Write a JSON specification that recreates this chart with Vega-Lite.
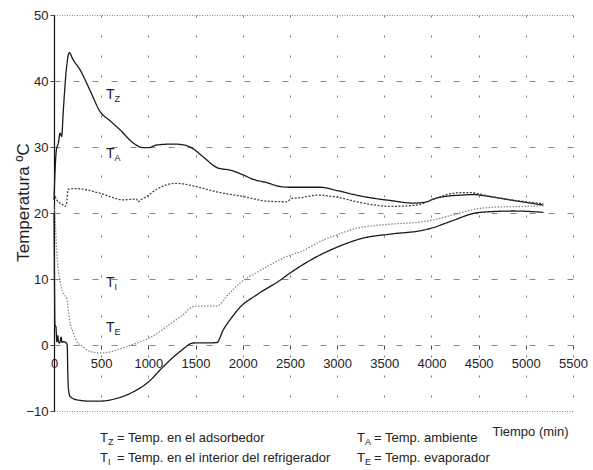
{
  "$schema": "https://vega.github.io/schema/vega-lite/v6.json",
  "width": 519,
  "height": 396,
  "autosize": "none",
  "padding": {"left": 54, "top": 15, "right": 20, "bottom": 59},
  "background": "white",
  "config": {
    "view": {"stroke": null},
    "font": "Liberation Sans",
    "text": {"font": "Liberation Sans"}
  },
  "datasets": {
    "curves": [
      {"serie": "TZ", "t": 0, "temp": 22},
      {"serie": "TZ", "t": 10, "temp": 26},
      {"serie": "TZ", "t": 25, "temp": 29.5},
      {"serie": "TZ", "t": 46, "temp": 30.6},
      {"serie": "TZ", "t": 64, "temp": 32.1},
      {"serie": "TZ", "t": 81, "temp": 31.6},
      {"serie": "TZ", "t": 99, "temp": 35.6},
      {"serie": "TZ", "t": 134, "temp": 42.2},
      {"serie": "TZ", "t": 162, "temp": 44.3},
      {"serie": "TZ", "t": 200, "temp": 43.3},
      {"serie": "TZ", "t": 276, "temp": 41.7},
      {"serie": "TZ", "t": 381, "temp": 38.6},
      {"serie": "TZ", "t": 487, "temp": 35.4},
      {"serie": "TZ", "t": 600, "temp": 33.9},
      {"serie": "TZ", "t": 700, "temp": 32.6},
      {"serie": "TZ", "t": 840, "temp": 30.6},
      {"serie": "TZ", "t": 946, "temp": 29.9},
      {"serie": "TZ", "t": 1000, "temp": 29.9},
      {"serie": "TZ", "t": 1088, "temp": 30.3},
      {"serie": "TZ", "t": 1265, "temp": 30.45},
      {"serie": "TZ", "t": 1380, "temp": 30.3},
      {"serie": "TZ", "t": 1441, "temp": 30.0},
      {"serie": "TZ", "t": 1582, "temp": 28.5},
      {"serie": "TZ", "t": 1700, "temp": 27.1},
      {"serie": "TZ", "t": 1741, "temp": 26.8},
      {"serie": "TZ", "t": 1865, "temp": 26.5},
      {"serie": "TZ", "t": 2000, "temp": 25.8},
      {"serie": "TZ", "t": 2112, "temp": 25.1},
      {"serie": "TZ", "t": 2254, "temp": 24.6},
      {"serie": "TZ", "t": 2400, "temp": 24.0},
      {"serie": "TZ", "t": 2501, "temp": 23.9},
      {"serie": "TZ", "t": 2819, "temp": 23.9},
      {"serie": "TZ", "t": 3000, "temp": 23.4},
      {"serie": "TZ", "t": 3208, "temp": 22.7},
      {"serie": "TZ", "t": 3400, "temp": 22.2},
      {"serie": "TZ", "t": 3561, "temp": 21.9},
      {"serie": "TZ", "t": 3808, "temp": 21.5},
      {"serie": "TZ", "t": 3950, "temp": 21.7},
      {"serie": "TZ", "t": 4020, "temp": 22.1},
      {"serie": "TZ", "t": 4197, "temp": 22.6},
      {"serie": "TZ", "t": 4303, "temp": 22.7},
      {"serie": "TZ", "t": 4450, "temp": 22.8},
      {"serie": "TZ", "t": 4515, "temp": 22.7},
      {"serie": "TZ", "t": 4700, "temp": 22.3},
      {"serie": "TZ", "t": 4868, "temp": 21.9},
      {"serie": "TZ", "t": 5050, "temp": 21.5},
      {"serie": "TZ", "t": 5186, "temp": 21.2},

      {"serie": "TA", "t": 0, "temp": 23},
      {"serie": "TA", "t": 28, "temp": 22.0},
      {"serie": "TA", "t": 64, "temp": 21.5},
      {"serie": "TA", "t": 90, "temp": 21.3},
      {"serie": "TA", "t": 117, "temp": 21.0},
      {"serie": "TA", "t": 135, "temp": 21.6},
      {"serie": "TA", "t": 145, "temp": 23.2},
      {"serie": "TA", "t": 152, "temp": 23.6},
      {"serie": "TA", "t": 240, "temp": 23.7},
      {"serie": "TA", "t": 487, "temp": 23.0},
      {"serie": "TA", "t": 735, "temp": 22.0},
      {"serie": "TA", "t": 876, "temp": 22.1},
      {"serie": "TA", "t": 890, "temp": 21.7},
      {"serie": "TA", "t": 920, "temp": 22.0},
      {"serie": "TA", "t": 982, "temp": 22.5},
      {"serie": "TA", "t": 1088, "temp": 23.6},
      {"serie": "TA", "t": 1200, "temp": 24.3},
      {"serie": "TA", "t": 1300, "temp": 24.5},
      {"serie": "TA", "t": 1476, "temp": 24.1},
      {"serie": "TA", "t": 1724, "temp": 23.2},
      {"serie": "TA", "t": 2006, "temp": 22.5},
      {"serie": "TA", "t": 2254, "temp": 21.8},
      {"serie": "TA", "t": 2466, "temp": 21.7},
      {"serie": "TA", "t": 2518, "temp": 22.2},
      {"serie": "TA", "t": 2607, "temp": 22.3},
      {"serie": "TA", "t": 2784, "temp": 22.7},
      {"serie": "TA", "t": 3000, "temp": 22.4},
      {"serie": "TA", "t": 3208, "temp": 21.7},
      {"serie": "TA", "t": 3400, "temp": 21.2},
      {"serie": "TA", "t": 3561, "temp": 21.0},
      {"serie": "TA", "t": 3843, "temp": 21.2},
      {"serie": "TA", "t": 4020, "temp": 22.1},
      {"serie": "TA", "t": 4197, "temp": 22.9},
      {"serie": "TA", "t": 4300, "temp": 23.1},
      {"serie": "TA", "t": 4409, "temp": 23.1},
      {"serie": "TA", "t": 4600, "temp": 22.6},
      {"serie": "TA", "t": 4797, "temp": 22.1},
      {"serie": "TA", "t": 5000, "temp": 21.7},
      {"serie": "TA", "t": 5186, "temp": 21.4},

      {"serie": "TI", "t": 0, "temp": 21},
      {"serie": "TI", "t": 11, "temp": 19.4},
      {"serie": "TI", "t": 28, "temp": 14.4},
      {"serie": "TI", "t": 64, "temp": 9.6},
      {"serie": "TI", "t": 100, "temp": 7.8},
      {"serie": "TI", "t": 134, "temp": 7.0},
      {"serie": "TI", "t": 170, "temp": 3.4},
      {"serie": "TI", "t": 205, "temp": 1.8},
      {"serie": "TI", "t": 240, "temp": 0.6},
      {"serie": "TI", "t": 300, "temp": -0.2},
      {"serie": "TI", "t": 346, "temp": -0.75},
      {"serie": "TI", "t": 420, "temp": -1.1},
      {"serie": "TI", "t": 487, "temp": -1.2},
      {"serie": "TI", "t": 580, "temp": -1.1},
      {"serie": "TI", "t": 664, "temp": -0.75},
      {"serie": "TI", "t": 780, "temp": -0.2},
      {"serie": "TI", "t": 876, "temp": 0.3},
      {"serie": "TI", "t": 1017, "temp": 1.1},
      {"serie": "TI", "t": 1194, "temp": 2.8},
      {"serie": "TI", "t": 1350, "temp": 4.4},
      {"serie": "TI", "t": 1494, "temp": 5.9},
      {"serie": "TI", "t": 1724, "temp": 5.9},
      {"serie": "TI", "t": 1850, "temp": 7.7},
      {"serie": "TI", "t": 1971, "temp": 9.4},
      {"serie": "TI", "t": 2150, "temp": 11.0},
      {"serie": "TI", "t": 2324, "temp": 12.4},
      {"serie": "TI", "t": 2501, "temp": 13.6},
      {"serie": "TI", "t": 2607, "temp": 14.1},
      {"serie": "TI", "t": 2854, "temp": 15.9},
      {"serie": "TI", "t": 3000, "temp": 16.7},
      {"serie": "TI", "t": 3208, "temp": 17.7},
      {"serie": "TI", "t": 3400, "temp": 18.1},
      {"serie": "TI", "t": 3561, "temp": 18.3},
      {"serie": "TI", "t": 3914, "temp": 18.7},
      {"serie": "TI", "t": 4000, "temp": 18.9},
      {"serie": "TI", "t": 4197, "temp": 19.6},
      {"serie": "TI", "t": 4515, "temp": 20.7},
      {"serie": "TI", "t": 4700, "temp": 20.9},
      {"serie": "TI", "t": 4974, "temp": 21.0},
      {"serie": "TI", "t": 5186, "temp": 21.1},

      {"serie": "TE", "t": 0, "temp": 20},
      {"serie": "TE", "t": 5, "temp": 10},
      {"serie": "TE", "t": 10, "temp": 3},
      {"serie": "TE", "t": 20, "temp": 2.8},
      {"serie": "TE", "t": 30, "temp": 0.5},
      {"serie": "TE", "t": 40, "temp": 1.4},
      {"serie": "TE", "t": 48, "temp": 0.4},
      {"serie": "TE", "t": 60, "temp": 0.3},
      {"serie": "TE", "t": 75, "temp": 1.2},
      {"serie": "TE", "t": 85, "temp": 0.4},
      {"serie": "TE", "t": 100, "temp": 0.5},
      {"serie": "TE", "t": 130, "temp": 0.3},
      {"serie": "TE", "t": 140, "temp": 0.0},
      {"serie": "TE", "t": 146, "temp": -4},
      {"serie": "TE", "t": 152, "temp": -6.5},
      {"serie": "TE", "t": 170, "temp": -7.8},
      {"serie": "TE", "t": 240, "temp": -8.3},
      {"serie": "TE", "t": 381, "temp": -8.5},
      {"serie": "TE", "t": 487, "temp": -8.5},
      {"serie": "TE", "t": 664, "temp": -8.1},
      {"serie": "TE", "t": 840, "temp": -7.1},
      {"serie": "TE", "t": 1017, "temp": -5.4},
      {"serie": "TE", "t": 1123, "temp": -3.8},
      {"serie": "TE", "t": 1335, "temp": -1.0},
      {"serie": "TE", "t": 1477, "temp": 0.3},
      {"serie": "TE", "t": 1724, "temp": 0.35},
      {"serie": "TE", "t": 1794, "temp": 2.3},
      {"serie": "TE", "t": 1880, "temp": 4.1},
      {"serie": "TE", "t": 1971, "temp": 5.7},
      {"serie": "TE", "t": 2148, "temp": 7.6},
      {"serie": "TE", "t": 2395, "temp": 9.8},
      {"serie": "TE", "t": 2501, "temp": 10.9},
      {"serie": "TE", "t": 2607, "temp": 11.9},
      {"serie": "TE", "t": 2748, "temp": 13.1},
      {"serie": "TE", "t": 2996, "temp": 14.8},
      {"serie": "TE", "t": 3278, "temp": 16.2},
      {"serie": "TE", "t": 3561, "temp": 16.8},
      {"serie": "TE", "t": 3914, "temp": 17.4},
      {"serie": "TE", "t": 4000, "temp": 17.7},
      {"serie": "TE", "t": 4197, "temp": 18.7},
      {"serie": "TE", "t": 4515, "temp": 20.1},
      {"serie": "TE", "t": 4868, "temp": 20.3},
      {"serie": "TE", "t": 5186, "temp": 20.1}
    ],
    "labels": [
      {"main": "T", "sub": "Z", "t": 551, "temp": 37.9},
      {"main": "T", "sub": "A", "t": 551, "temp": 28.9},
      {"main": "T", "sub": "I", "t": 551, "temp": 9.4},
      {"main": "T", "sub": "E", "t": 551, "temp": 2.6}
    ],
    "legend": [
      {"main": "T", "sub": "Z", "rest": "= Temp. en el adsorbedor", "t": 487, "temp": -14.1},
      {"main": "T", "sub": "I", "rest": "= Temp. en el interior del refrigerador", "t": 487, "temp": -17.1},
      {"main": "T", "sub": "A", "rest": "= Temp. ambiente", "t": 3211, "temp": -14.1},
      {"main": "T", "sub": "E", "rest": "= Temp. evaporador", "t": 3211, "temp": -17.1}
    ]
  },
  "encoding": {
    "x": {
      "field": "t",
      "type": "quantitative",
      "scale": {"domain": [0, 5500], "nice": false, "zero": false},
      "axis": {
        "title": "Tiempo (min)",
        "titleFont": "Liberation Sans",
        "titleFontWeight": "normal",
        "titleFontSize": 13,
        "titleColor": "#222",
        "titleX": 476,
        "titleY": 86,
        "titleAlign": "center",
        "titleBaseline": "middle",
        "offset": -66,
        "format": "d",
        "values": [0, 500, 1000, 1500, 2000, 2500, 3000, 3500, 4000, 4500, 5000, 5500],
        "domain": false,
        "ticks": true,
        "tickSize": 4,
        "tickColor": "#444",
        "labelFont": "Liberation Sans",
        "labelFontSize": 13,
        "labelColor": "#222",
        "labelPadding": 8,
        "labelFlush": false,
        "grid": true,
        "gridColor": {"condition": {"test": "datum.value === 0", "value": "transparent"}, "value": "#777"},
        "gridDash": [2, 18],
        "gridWidth": 1
      }
    },
    "y": {
      "field": "temp",
      "type": "quantitative",
      "scale": {"domain": [-10, 50], "nice": false, "zero": false},
      "axis": {
        "title": "Temperatura ºC",
        "titleFont": "Liberation Sans",
        "titleFontWeight": "normal",
        "titleFontSize": 17,
        "titleColor": "#222",
        "titleX": -31,
        "titleY": 187,
        "titleAlign": "center",
        "titleBaseline": "middle",
        "titleAngle": -90,
        "values": [-10, 0, 10, 20, 30, 40, 50],
        "domain": true,
        "domainColor": "#111",
        "domainWidth": 1.2,
        "tickSize": 4,
        "tickColor": "#444",
        "labelFont": "Liberation Sans",
        "labelFontSize": 13,
        "labelColor": "#222",
        "labelPadding": 2,
        "grid": true,
        "gridColor": "#888",
        "gridDash": {"condition": {"test": "datum.value === 50 || datum.value === -10", "value": [1, 1.5]}, "value": [6, 13]},
        "gridWidth": 1
      }
    }
  },
  "layer": [
    {
      "data": {"name": "curves"},
      "mark": {"type": "line", "strokeWidth": 1.3, "interpolate": "monotone"},
      "encoding": {
        "detail": {"field": "serie"},
        "color": {
          "field": "serie",
          "type": "nominal",
          "scale": {"domain": ["TZ", "TA", "TI", "TE"], "range": ["#1a1a1a", "#444444", "#8a8a8a", "#1a1a1a"]},
          "legend": null
        },
        "strokeDash": {
          "field": "serie",
          "type": "nominal",
          "scale": {"domain": ["TZ", "TA", "TI", "TE"], "range": [[1, 0], [2, 1.5], [1.5, 1.5], [1, 0]]},
          "legend": null
        }
      }
    },
    {
      "data": {"name": "labels"},
      "mark": {"type": "text", "align": "left", "baseline": "middle", "fontSize": 14, "color": "#222"},
      "encoding": {"text": {"field": "main"}}
    },
    {
      "data": {"name": "labels"},
      "mark": {"type": "text", "align": "left", "baseline": "middle", "fontSize": 9, "dx": 8.5, "dy": 4, "color": "#222"},
      "encoding": {"text": {"field": "sub"}}
    },
    {
      "data": {"name": "legend"},
      "mark": {"type": "text", "align": "left", "baseline": "middle", "fontSize": 13, "color": "#222"},
      "encoding": {"text": {"field": "main"}}
    },
    {
      "data": {"name": "legend"},
      "mark": {"type": "text", "align": "left", "baseline": "middle", "fontSize": 9, "dx": 8, "dy": 4, "color": "#222"},
      "encoding": {"text": {"field": "sub"}}
    },
    {
      "data": {"name": "legend"},
      "mark": {"type": "text", "align": "left", "baseline": "middle", "fontSize": 13, "dx": 17, "color": "#222"},
      "encoding": {"text": {"field": "rest"}}
    }
  ]
}
